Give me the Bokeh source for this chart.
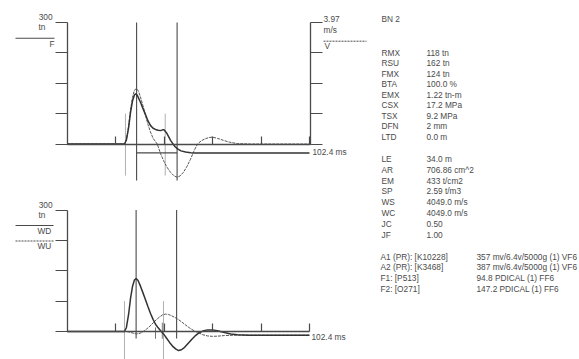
from bokeh.plotting import figure
from bokeh.models import Range1d, LinearAxis, FixedTicker
from bokeh.embed import file_html
from bokeh.resources import INLINE
from bokeh.core.properties import value

# ---------------- data ----------------
# top panel: force F (tn) and velocity Z*V (tn), time in ms
T_F = [0, 23.7, 24.5, 25.4, 26.2, 27.0, 27.8, 28.3, 29.0, 30.3, 31.3, 32.4, 33.4, 34.4, 35.5,
       36.5, 37.6, 38.6, 39.4, 40.0, 41.0, 41.9, 42.7, 43.5, 44.5, 45.6, 47.0, 48.9, 51.0, 53.0, 100.0]
F_TN = [0, 0, 10, 40, 78, 106, 121, 124, 120, 103, 88, 72, 57, 46, 39,
        36, 34, 33, 35, 35, 28, 18, 9, 2, -6, -12, -17, -20, -21.5, -22, -22]

T_V = [0, 23.7, 24.5, 25.4, 26.2, 27.0, 27.8, 28.7, 29.5, 30.3, 31.3, 32.4, 33.4, 34.4, 35.5,
       37.2, 38.6, 39.8, 41.2, 42.7, 44.2, 45.4, 46.6, 48.0, 49.5, 50.9, 52.3, 53.8, 55.4, 56.7,
       58.5, 60.0, 62.0, 64.5, 67.0, 70.3, 75.7, 100.0]
V_TN = [0, 0, 11, 45, 85, 115, 133, 137, 130, 116, 95, 70, 48, 30, 14,
        0, -24, -41, -57, -70, -79, -82, -79, -70, -55, -38, -18, 0, 8, 12,
        16, 17, 14, 9, 4.5, 1, 0, 0]

# bottom panel: wave down WD and wave up WU (tn)
T_WD = [0, 23.7, 24.5, 25.4, 26.2, 27.0, 27.8, 28.5, 29.3, 30.3, 31.3, 32.4, 33.4, 34.4, 35.5,
        36.5, 37.6, 38.6, 39.8, 41.0, 42.3, 43.5, 44.8, 46.0, 47.2, 48.5, 50.0, 51.5, 53.0, 54.5,
        56.0, 58.0, 60.0, 62.0, 64.5, 67.5, 70.3, 75.0, 100.0]
WD_TN = [0, 0, 10, 42, 82, 111, 127, 131, 126, 112, 96, 78, 61, 45, 30,
         18, 9, 2, -6, -16, -27, -36, -43, -47, -45, -39, -29, -19, -10, -3,
         1, 4, 4, 2, -2, -6, -8, -9, -9]

T_WU = [0, 24.5, 25.4, 26.6, 27.8, 28.7, 29.7, 30.7, 31.7, 32.8, 33.8, 34.8, 35.8, 37.0, 38.2,
        39.4, 40.6, 41.8, 43.1, 44.4, 45.6, 47.0, 48.5, 50.0, 51.5, 53.0, 54.5, 56.0, 58.0, 60.0,
        62.0, 65.0, 70.0, 100.0]
WU_TN = [0, 0, -1, -3, -5, -6, -5, -3, 1, 6, 11, 17, 23, 30, 36,
         41, 43, 42, 39, 35, 31, 25, 18, 11, 5, 0, -4, -8, -11, -12,
         -11.5, -10, -9, -9]

TN_TICKS = [0, 75, 150, 225, 300]
VEL_TICKS = [0, 0.99, 1.99, 2.98, 3.97]
TIME_TICKS = [20, 40, 60, 80, 100]
T_END = 100.4

# event markers (ms)
MARK_T_TOP = [28.7, 45.4]
GRAY_T_TOP = [24.1, 40.5]
MARK_T_BOT = [28.5, 45.2]
GRAY_T_BOT = [23.7, 39.8]
SMALL_T_BOT = [36.5, 39.3]
RX_LEVEL = -22

RESULT_LABELS = ["RMX", "RSU", "FMX", "BTA", "EMX", "CSX", "TSX", "DFN", "LTD"]
RESULT_VALUES = ["118 tn", "162 tn", "124 tn", "100.0 %", "1.22 tn-m", "17.2 MPa", "9.2 MPa", "2 mm", "0.0 m"]
PILE_LABELS = ["LE", "AR", "EM", "SP", "WS", "WC", "JC", "JF"]
PILE_VALUES = ["34.0 m", "706.86 cm^2", "433 t/cm2", "2.59 t/m3", "4049.0 m/s", "4049.0 m/s", "0.50", "1.00"]
SENSOR_LABELS = ["A1 (PR): [K10228]", "A2 (PR): [K3468]", "F1: [P513]", "F2: [O271]"]
SENSOR_VALUES = ["357 mv/6.4v/5000g (1) VF6", "387 mv/6.4v/5000g (1) VF6",
                 "94.8 PDICAL (1) FF6", "147.2 PDICAL (1) FF6"]

# ---------------- layout ----------------
W, H = 579, 359
OFF = 0          # canvas origin in the photographed page
PX_PER_MS = 2.425
PX_PER_TN = 0.405
x0 = -(66.5 - OFF) / PX_PER_MS
x1 = x0 + W / PX_PER_MS
yt1 = (143.5 - OFF) / PX_PER_TN
yt0 = yt1 - H / PX_PER_TN
yb1 = (331 - OFF) / PX_PER_TN
yb0 = yb1 - H / PX_PER_TN
vs = 3.97 / 300

p = figure(width=W, height=H, x_range=Range1d(x0, x1), y_range=Range1d(yt0, yt1),
           x_axis_type=None, y_axis_type=None, toolbar_location=None,
           output_backend="svg", min_border=0)
p.outline_line_color = None
p.background_fill_color = "white"
p.border_fill_color = "white"
p.extra_y_ranges = {"bot": Range1d(yb0, yb1), "vel": Range1d(yt0 * vs, yt1 * vs),
                    "py": Range1d(OFF + H, OFF)}
p.extra_x_ranges = {"px": Range1d(OFF, OFF + W)}

AX = "#4a4a4a"
CUR = "#333333"
TXT = "#4a4a4a"
FONT = value("Liberation Sans")


def style_axis(ax, out=0, inn=0):
    ax.axis_line_color = AX
    ax.axis_line_width = 1.3
    ax.major_tick_line_color = AX
    ax.major_tick_line_width = 1.2
    ax.major_tick_out = out
    ax.major_tick_in = inn
    ax.minor_tick_out = 0
    ax.minor_tick_in = 0
    ax.major_label_text_color = None
    return ax


# top panel axes
p.add_layout(style_axis(LinearAxis(fixed_location=0, bounds=(0, 300),
                                   ticker=FixedTicker(ticks=TN_TICKS)), out=12), "left")
p.add_layout(style_axis(LinearAxis(fixed_location=T_END, bounds=(0, 3.97), y_range_name="vel",
                                   ticker=FixedTicker(ticks=VEL_TICKS)), out=12), "right")
p.add_layout(style_axis(LinearAxis(fixed_location=0, bounds=(0, T_END),
                                   ticker=FixedTicker(ticks=TIME_TICKS)), inn=8), "below")
# bottom panel axes
p.add_layout(style_axis(LinearAxis(fixed_location=0, bounds=(0, 300), y_range_name="bot",
                                   ticker=FixedTicker(ticks=TN_TICKS)), out=12), "left")
p.add_layout(style_axis(LinearAxis(fixed_location=0, bounds=(0, 100), y_range_name="bot",
                                   ticker=FixedTicker(ticks=TIME_TICKS)), inn=8), "below")

# top panel markers
p.segment(x0=GRAY_T_TOP, y0=[-78] * 2, x1=GRAY_T_TOP, y1=[75] * 2, line_color="#b0b0b0", line_width=1)
p.segment(x0=MARK_T_TOP, y0=[-90] * 2, x1=MARK_T_TOP, y1=[300] * 2, line_color=AX, line_width=1.1)
p.segment(x0=[MARK_T_TOP[0]], y0=[RX_LEVEL], x1=[MARK_T_TOP[1]], y1=[RX_LEVEL], line_color=AX, line_width=1.1)
# top curves
p.line(T_V, V_TN, line_color="#555555", line_width=1.0, line_dash="3 1")
p.line(T_F, F_TN, line_color=CUR, line_width=1.5)

# bottom panel markers
p.segment(x0=GRAY_T_BOT, y0=[-75] * 2, x1=GRAY_T_BOT, y1=[75] * 2, line_color="#b0b0b0",
          line_width=1, y_range_name="bot")
p.segment(x0=MARK_T_BOT, y0=[-17] * 2, x1=MARK_T_BOT, y1=[300] * 2, line_color=AX,
          line_width=1.1, y_range_name="bot")
p.segment(x0=SMALL_T_BOT, y0=[-18] * 2, x1=SMALL_T_BOT, y1=[10, 22], line_color="#777777",
          line_width=1, y_range_name="bot")
p.line(T_WU, WU_TN, line_color="#555555", line_width=1.0, line_dash="3 1", y_range_name="bot")
p.line(T_WD, WD_TN, line_color=CUR, line_width=1.5, y_range_name="bot")

# legend swatches (page pixel coordinates)
p.segment(x0=[15, 15], y0=[37.7, 225], x1=[54, 53], y1=[37.7, 225], line_color=AX, line_width=1.1,
          x_range_name="px", y_range_name="py")
p.segment(x0=[323, 15], y0=[40.7, 240.5], x1=[366, 53], y1=[40.7, 240.5], line_color=AX,
          line_width=1.0, line_dash="2 1", x_range_name="px", y_range_name="py")


def txt(xs, ys, texts, align="left", color=TXT, size="8.3px"):
    p.text(x=xs, y=ys, text=texts, text_font=FONT, text_font_size=size, text_color=color,
           text_align=align, text_baseline="middle", x_range_name="px", y_range_name="py")


# axis annotations
txt([52, 52], [16, 204.5], ["300", "300"], align="right")
txt([38, 38], [26.5, 214.5], ["tn", "tn"])
txt([49], [43], ["F"])
txt([37, 37], [230, 245], ["WD", "WU"])
txt([323, 323, 324], [18, 29, 45], ["3.97", "m/s", "V"])
txt([312, 311], [151.5, 336.5], ["102.4 ms", "102.4 ms"])

# text block on the right
txt([381], [18.5], ["BN 2"])
ry = [52 + 10.5 * i for i in range(len(RESULT_LABELS))]
txt([381] * len(ry), ry, RESULT_LABELS)
txt([426] * len(ry), ry, RESULT_VALUES)
py_ = [158.5 + 10.8 * i for i in range(len(PILE_LABELS))]
txt([381] * len(py_), py_, PILE_LABELS)
txt([426] * len(py_), py_, PILE_VALUES)
sy = [256 + 10.7 * i for i in range(len(SENSOR_LABELS))]
txt([380] * len(sy), sy, SENSOR_LABELS)
txt([476] * len(sy), sy, SENSOR_VALUES)

open("out.html", "w").write(file_html(p, INLINE))
